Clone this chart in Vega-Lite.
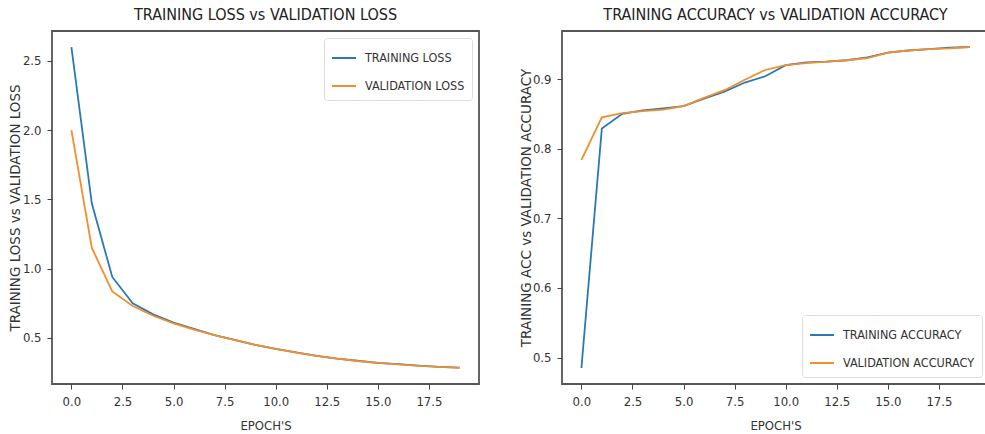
{
  "$schema": "https://vega.github.io/schema/vega-lite/v6.json",
  "background": "white",
  "padding": {"left": 7, "top": 6, "right": 0, "bottom": 0},
  "spacing": 83,
  "bounds": "flush",
  "datasets": {
    "loss": [
      {"epoch": 0, "series": "TRAINING LOSS", "value": 2.6},
      {"epoch": 1, "series": "TRAINING LOSS", "value": 1.47},
      {"epoch": 2, "series": "TRAINING LOSS", "value": 0.94},
      {"epoch": 3, "series": "TRAINING LOSS", "value": 0.75},
      {"epoch": 4, "series": "TRAINING LOSS", "value": 0.67},
      {"epoch": 5, "series": "TRAINING LOSS", "value": 0.61},
      {"epoch": 6, "series": "TRAINING LOSS", "value": 0.565},
      {"epoch": 7, "series": "TRAINING LOSS", "value": 0.52},
      {"epoch": 8, "series": "TRAINING LOSS", "value": 0.485},
      {"epoch": 9, "series": "TRAINING LOSS", "value": 0.45},
      {"epoch": 10, "series": "TRAINING LOSS", "value": 0.42},
      {"epoch": 11, "series": "TRAINING LOSS", "value": 0.395},
      {"epoch": 12, "series": "TRAINING LOSS", "value": 0.37},
      {"epoch": 13, "series": "TRAINING LOSS", "value": 0.35},
      {"epoch": 14, "series": "TRAINING LOSS", "value": 0.335},
      {"epoch": 15, "series": "TRAINING LOSS", "value": 0.32},
      {"epoch": 16, "series": "TRAINING LOSS", "value": 0.31},
      {"epoch": 17, "series": "TRAINING LOSS", "value": 0.3},
      {"epoch": 18, "series": "TRAINING LOSS", "value": 0.29},
      {"epoch": 19, "series": "TRAINING LOSS", "value": 0.285},
      {"epoch": 0, "series": "VALIDATION LOSS", "value": 2.0},
      {"epoch": 1, "series": "VALIDATION LOSS", "value": 1.15},
      {"epoch": 2, "series": "VALIDATION LOSS", "value": 0.835},
      {"epoch": 3, "series": "VALIDATION LOSS", "value": 0.73},
      {"epoch": 4, "series": "VALIDATION LOSS", "value": 0.66},
      {"epoch": 5, "series": "VALIDATION LOSS", "value": 0.605},
      {"epoch": 6, "series": "VALIDATION LOSS", "value": 0.56},
      {"epoch": 7, "series": "VALIDATION LOSS", "value": 0.52},
      {"epoch": 8, "series": "VALIDATION LOSS", "value": 0.483},
      {"epoch": 9, "series": "VALIDATION LOSS", "value": 0.45},
      {"epoch": 10, "series": "VALIDATION LOSS", "value": 0.42},
      {"epoch": 11, "series": "VALIDATION LOSS", "value": 0.393},
      {"epoch": 12, "series": "VALIDATION LOSS", "value": 0.37},
      {"epoch": 13, "series": "VALIDATION LOSS", "value": 0.35},
      {"epoch": 14, "series": "VALIDATION LOSS", "value": 0.333},
      {"epoch": 15, "series": "VALIDATION LOSS", "value": 0.32},
      {"epoch": 16, "series": "VALIDATION LOSS", "value": 0.308},
      {"epoch": 17, "series": "VALIDATION LOSS", "value": 0.298},
      {"epoch": 18, "series": "VALIDATION LOSS", "value": 0.29},
      {"epoch": 19, "series": "VALIDATION LOSS", "value": 0.283}
    ],
    "acc": [
      {"epoch": 0, "series": "TRAINING ACCURACY", "value": 0.485},
      {"epoch": 1, "series": "TRAINING ACCURACY", "value": 0.829},
      {"epoch": 2, "series": "TRAINING ACCURACY", "value": 0.85},
      {"epoch": 3, "series": "TRAINING ACCURACY", "value": 0.855},
      {"epoch": 4, "series": "TRAINING ACCURACY", "value": 0.858},
      {"epoch": 5, "series": "TRAINING ACCURACY", "value": 0.861},
      {"epoch": 6, "series": "TRAINING ACCURACY", "value": 0.872},
      {"epoch": 7, "series": "TRAINING ACCURACY", "value": 0.882},
      {"epoch": 8, "series": "TRAINING ACCURACY", "value": 0.895},
      {"epoch": 9, "series": "TRAINING ACCURACY", "value": 0.904},
      {"epoch": 10, "series": "TRAINING ACCURACY", "value": 0.92},
      {"epoch": 11, "series": "TRAINING ACCURACY", "value": 0.924},
      {"epoch": 12, "series": "TRAINING ACCURACY", "value": 0.925},
      {"epoch": 13, "series": "TRAINING ACCURACY", "value": 0.927},
      {"epoch": 14, "series": "TRAINING ACCURACY", "value": 0.931},
      {"epoch": 15, "series": "TRAINING ACCURACY", "value": 0.938},
      {"epoch": 16, "series": "TRAINING ACCURACY", "value": 0.941},
      {"epoch": 17, "series": "TRAINING ACCURACY", "value": 0.943},
      {"epoch": 18, "series": "TRAINING ACCURACY", "value": 0.945},
      {"epoch": 19, "series": "TRAINING ACCURACY", "value": 0.946},
      {"epoch": 0, "series": "VALIDATION ACCURACY", "value": 0.784},
      {"epoch": 1, "series": "VALIDATION ACCURACY", "value": 0.845},
      {"epoch": 2, "series": "VALIDATION ACCURACY", "value": 0.851},
      {"epoch": 3, "series": "VALIDATION ACCURACY", "value": 0.854},
      {"epoch": 4, "series": "VALIDATION ACCURACY", "value": 0.856},
      {"epoch": 5, "series": "VALIDATION ACCURACY", "value": 0.861},
      {"epoch": 6, "series": "VALIDATION ACCURACY", "value": 0.873},
      {"epoch": 7, "series": "VALIDATION ACCURACY", "value": 0.884},
      {"epoch": 8, "series": "VALIDATION ACCURACY", "value": 0.899},
      {"epoch": 9, "series": "VALIDATION ACCURACY", "value": 0.913},
      {"epoch": 10, "series": "VALIDATION ACCURACY", "value": 0.92},
      {"epoch": 11, "series": "VALIDATION ACCURACY", "value": 0.923},
      {"epoch": 12, "series": "VALIDATION ACCURACY", "value": 0.925},
      {"epoch": 13, "series": "VALIDATION ACCURACY", "value": 0.927},
      {"epoch": 14, "series": "VALIDATION ACCURACY", "value": 0.93},
      {"epoch": 15, "series": "VALIDATION ACCURACY", "value": 0.938},
      {"epoch": 16, "series": "VALIDATION ACCURACY", "value": 0.941},
      {"epoch": 17, "series": "VALIDATION ACCURACY", "value": 0.943},
      {"epoch": 18, "series": "VALIDATION ACCURACY", "value": 0.944},
      {"epoch": 19, "series": "VALIDATION ACCURACY", "value": 0.946}
    ]
  },
  "resolve": {"scale": {"x": "independent", "y": "independent", "color": "independent"}},
  "hconcat": [
    {
      "width": 427,
      "height": 353,
      "data": {"name": "loss"},
      "title": "TRAINING LOSS vs VALIDATION LOSS",
      "mark": {"type": "line", "strokeWidth": 1.8},
      "encoding": {
        "x": {"field": "epoch", "type": "quantitative", "title": "EPOCH'S",
              "scale": {"domain": [-0.95, 19.95], "nice": false, "zero": false},
              "axis": {"values": [0, 2.5, 5, 7.5, 10, 12.5, 15, 17.5], "format": ".1f"}},
        "y": {"field": "value", "type": "quantitative", "title": "TRAINING LOSS vs VALIDATION LOSS",
              "scale": {"domain": [0.167, 2.716], "nice": false, "zero": false},
              "axis": {"values": [0.5, 1.0, 1.5, 2.0, 2.5], "format": ".1f", "titleX": -37}},
        "color": {"field": "series", "type": "nominal",
                  "scale": {"domain": ["TRAINING LOSS", "VALIDATION LOSS"], "range": ["#2a78b4", "#f28e2b"]},
                  "legend": {"orient": "top-right"}}
      }
    },
    {
      "width": 427,
      "height": 353,
      "data": {"name": "acc"},
      "title": "TRAINING ACCURACY vs VALIDATION ACCURACY",
      "mark": {"type": "line", "strokeWidth": 1.8},
      "encoding": {
        "x": {"field": "epoch", "type": "quantitative", "title": "EPOCH'S",
              "scale": {"domain": [-0.95, 19.95], "nice": false, "zero": false},
              "axis": {"values": [0, 2.5, 5, 7.5, 10, 12.5, 15, 17.5], "format": ".1f"}},
        "y": {"field": "value", "type": "quantitative", "title": "TRAINING ACC vs VALIDATION ACCURACY",
              "scale": {"domain": [0.462, 0.969], "nice": false, "zero": false},
              "axis": {"values": [0.5, 0.6, 0.7, 0.8, 0.9], "format": ".1f", "titleX": -36}},
        "color": {"field": "series", "type": "nominal",
                  "scale": {"domain": ["TRAINING ACCURACY", "VALIDATION ACCURACY"], "range": ["#2a78b4", "#f28e2b"]},
                  "legend": {"orient": "bottom-right"}}
      }
    }
  ],
  "config": {
    "view": {"stroke": "#555555", "strokeWidth": 1.8},
    "title": {"font": "'DejaVu Sans Condensed', Roboto, sans-serif", "fontSize": 16, "fontWeight": "normal", "color": "#222", "offset": 8, "anchor": "middle"},
    "axis": {
      "domain": false, "grid": false,
      "tickColor": "#444", "tickSize": 5, "tickWidth": 1,
      "labelFont": "'DejaVu Sans Condensed', Roboto, sans-serif", "labelFontSize": 13, "labelColor": "#333", "labelPadding": 6,
      "titleFont": "'DejaVu Sans Condensed', Roboto, sans-serif", "titleFontSize": 13, "titleFontWeight": "normal", "titleColor": "#333"
    },
    "axisX": {"titleY": 41, "titleBaseline": "middle"},
    "axisY": {"titleFont": "DejaVu Sans", "titleFontSize": 13.5, "titleBaseline": "middle", "titleY": 176.5, "titleAngle": -90},
    "legend": {
      "title": null, "symbolType": "stroke", "symbolSize": 576, "symbolStrokeWidth": 2,
      "labelFont": "'DejaVu Sans Condensed', Roboto, sans-serif", "labelFontSize": 12.5, "labelColor": "#333", "labelLimit": 400,
      "strokeColor": "#dddddd", "fillColor": "white", "padding": 7, "cornerRadius": 3,
      "rowPadding": 8, "labelOffset": 8, "offset": 7
    }
  }
}
